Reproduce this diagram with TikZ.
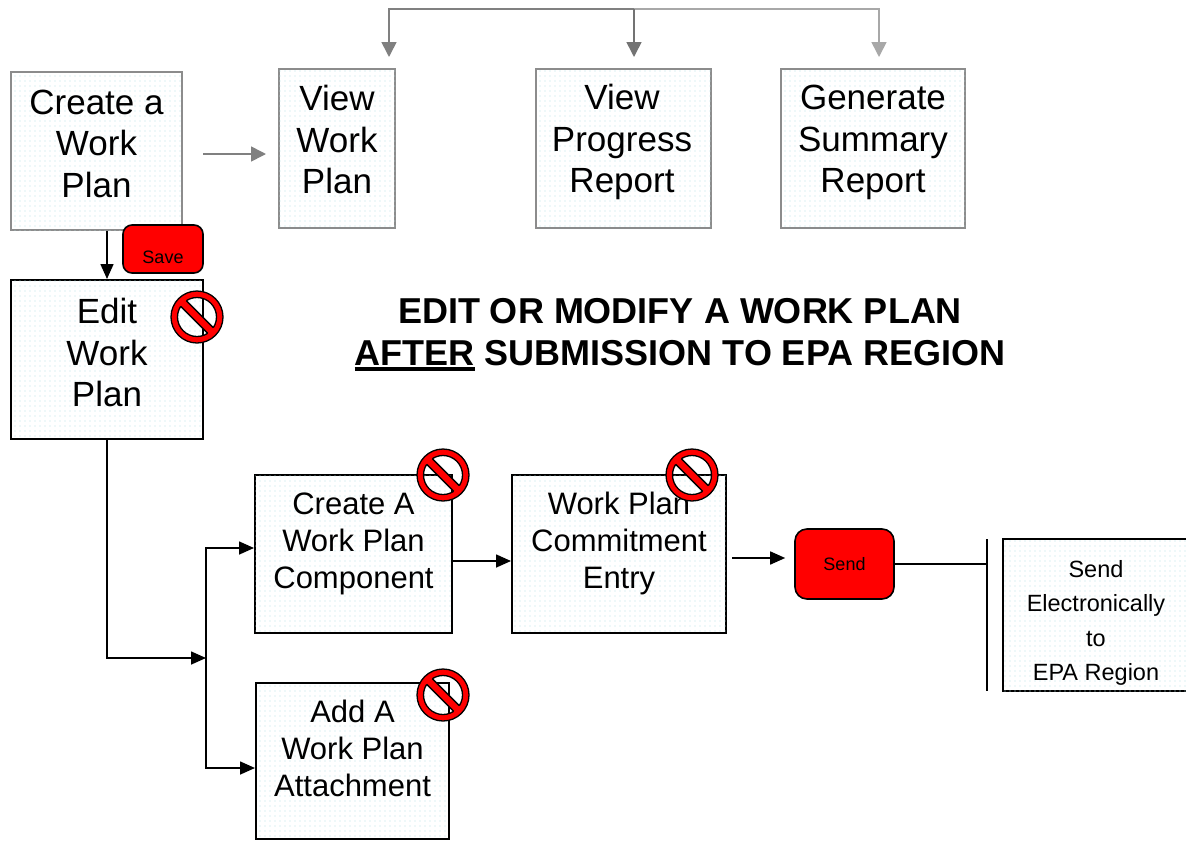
\documentclass[tikz,border=0pt]{standalone}
\usepackage{fontspec}
\setmainfont{Liberation Sans}
\usetikzlibrary{arrows.meta,patterns.meta}
\definecolor{dotc}{RGB}{185,225,230}
\definecolor{boxgray}{RGB}{140,140,140}
\definecolor{gA}{RGB}{128,128,128}
\definecolor{gB}{RGB}{115,115,115}
\definecolor{gC}{RGB}{168,168,168}
\tikzdeclarepattern{
  name=epadots,
  type=uncolored,
  bounding box={(-2.5pt,-2.5pt) and (2.5pt,2.5pt)},
  tile size={(5pt,5pt)},
  code={\fill (0pt,0pt) circle (0.55pt);}
}
\newcommand\epaul[1]{\setbox0\hbox{#1}\rlap{\rule[-6pt]{\wd0}{4pt}}\box0}
\newcommand\epanosign[1]{%
  \begin{scope}[shift={#1}]
    \draw[line width=1.3pt, fill=red, even odd rule] (0,0) circle (26) (0,0) circle (19.5);
    \begin{scope}[rotate=-45]
      \fill[red] (-22.7,-4) rectangle (22.7,4);
      \draw[line width=1.3pt] (-19.1,-4) -- (19.1,-4) (-19.1,4) -- (19.1,4);
    \end{scope}
  \end{scope}}
\begin{document}
\begin{tikzpicture}[x=1pt,y=-1pt,
  box/.style={rectangle, inner sep=0pt, line width=2pt, fill=white,
    postaction={pattern=epadots, pattern color=dotc}},
  gbox/.style={box, draw=boxgray},
  kbox/.style={box, draw=black},
  bigtxt/.style={font=\fontsize{35}{41.5}\selectfont, align=center, text height=25pt, text depth=0pt, inner sep=0pt},
  midtxt/.style={font=\fontsize{31}{37}\selectfont, align=center, text height=22pt, text depth=0pt, inner sep=0pt},
  smalltxt/.style={font=\fontsize{23.5}{34.5}\selectfont, align=center, text height=17pt, text depth=0pt, inner sep=0pt},
  btn/.style={rectangle, rounded corners=9pt, fill=red, draw=black, line width=1.6pt, inner sep=0pt, font=\fontsize{18}{20}\selectfont},
  karrow/.style={line width=1.6pt, draw=black, -{Triangle[length=15pt,width=13pt]}},
  garrowA/.style={line width=1.6pt, draw=gA, -{Triangle[length=15pt,width=15pt]}},
  garrowB/.style={line width=1.6pt, draw=gB, -{Triangle[length=15pt,width=15pt]}},
  garrowC/.style={line width=1.6pt, draw=gC, -{Triangle[length=15pt,width=15pt]}},
  kline/.style={line width=1.6pt, draw=black}
]
\useasboundingbox[fill=white] (0,0) rectangle (1186,841);

% top row boxes
\node[gbox, minimum width=171pt, minimum height=158pt] (create) at (96.5,151) {};
\node[gbox, minimum width=116pt, minimum height=159pt] (view) at (337,148.5) {};
\node[gbox, minimum width=175pt, minimum height=159pt] (prog) at (623.5,148.5) {};
\node[gbox, minimum width=184pt, minimum height=159pt] (gen) at (873,148.5) {};
\node[bigtxt] (createT) at (96.5,184.5) {Create a\\Work\\Plan};
\node[bigtxt] (viewT) at (337,181) {View\\Work\\Plan};
\node[bigtxt] (progT) at (622,180) {View\\Progress\\Report};
\node[bigtxt] (genT) at (873,180) {Generate\\Summary\\Report};

% edit box
\node[kbox, minimum width=192pt, minimum height=159pt] (edit) at (107,359.5) {};
\node[bigtxt] (editT) at (107,394) {Edit\\Work\\Plan};

% lower boxes
\node[kbox, minimum width=197pt, minimum height=158pt] (comp) at (353.5,554) {};
\node[kbox, minimum width=214pt, minimum height=158pt] (commit) at (619,554) {};
\node[kbox, minimum width=193pt, minimum height=156pt] (add) at (352.5,761) {};
\node[kbox, minimum width=189pt, minimum height=152pt] (epa) at (1097.5,615) {};
\node[midtxt] (compT) at (353.5,577.5) {Create A\\Work Plan\\Component};
\node[midtxt] (commitT) at (619,577.5) {Work Plan\\Commitment\\Entry};
\node[midtxt] (addT) at (352.5,785) {Add A\\Work Plan\\Attachment};
\node[smalltxt] (epaT) at (1096,672) {Send\\Electronically\\to\\EPA Region};

% title
\node[font=\fontsize{36}{42}\selectfont\bfseries, align=center, text height=26pt, text depth=0pt, inner sep=0pt]
  (title) at (680,352) {EDIT OR MODIFY A WORK PLAN\\\epaul{AFTER}\ SUBMISSION TO EPA REGION};

% top bracket
\coordinate (tl) at (389,9);
\coordinate (tm) at (634,9);
\coordinate (tr) at (879,9);
\coordinate (e1) at (389,57);
\coordinate (e2) at (634,57);
\coordinate (e3) at (879,57);
\draw[garrowA] (tm) -- (tl) -- (e1);
\draw[garrowC] (tm) -- (tr) -- (e3);
\draw[garrowB] (tm) -- (e2);

% create -> view
\draw[garrowA, shorten <=20pt, shorten >=12pt] ([yshift=-3pt]create.east) -- ([yshift=-3pt]create.east -| view.west);

% create -> edit
\draw[karrow] (create.south -| edit.north) -- (edit.north);

% save button
\node[btn, minimum width=80pt, minimum height=48pt] (save) at (163,249) {};
\node[font=\fontsize{18}{20}\selectfont, inner sep=0pt] (saveT) at (163,257) {Save};

% edit -> junction -> comp / add
\coordinate (j) at (206,658);
\draw[karrow] (edit.south) |- (j);
\draw[karrow] (j) |- ([yshift=6pt]comp.west);
\draw[karrow] (j) |- ([yshift=-7pt]add.west);

% comp -> commit
\draw[karrow] ([yshift=-7pt]comp.east) -- ([yshift=-7pt]comp.east -| commit.west);

% send button
\node[btn, minimum width=99pt, minimum height=70pt, rounded corners=12pt] (send) at (844.5,564) {Send};
\draw[karrow, shorten <=5pt, shorten >=9pt] ([yshift=-4pt]commit.east) -- ([yshift=-4pt]commit.east -| send.west);

% send -> bar
\coordinate (bart) at (987,539);
\coordinate (barb) at (987,691);
\draw[kline] (bart) -- (barb);
\draw[kline] (send.east) -- (send.east -| bart);

% no signs
\epanosign{(197,317)}
\epanosign{(443,475)}
\epanosign{(692,475)}
\epanosign{(443,695)}
\end{tikzpicture}
\end{document}
